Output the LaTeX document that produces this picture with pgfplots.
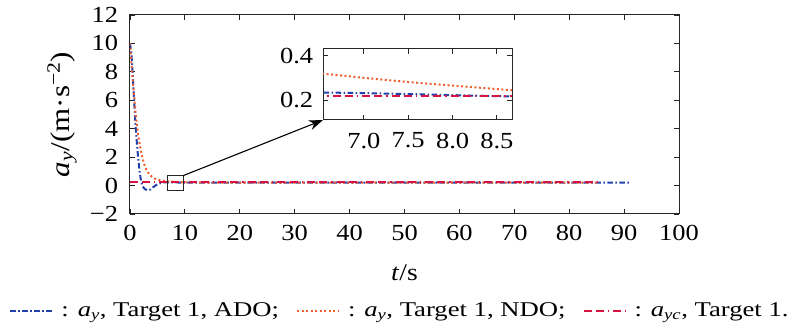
\documentclass[border=0pt]{standalone}
\usepackage{pgfplots}
\pgfplotsset{compat=1.18}
\usepackage{pgfplotstable}
\usepackage{fontspec}
\setmainfont{Liberation Serif}[FakeStretch=1.15]
\newfontfamily\legfont{Liberation Serif}[FakeStretch=1.27]
\usetikzlibrary{calc,arrows.meta}
\definecolor{cblue}{RGB}{35,65,170}
\definecolor{corange}{RGB}{240,95,45}
\definecolor{cred}{RGB}{215,20,65}
\pgfplotstableread{
t y
0 10
0.25 9.3
0.5 7.8
0.75 6.0
1.0 4.3
1.25 3.0
1.5 1.9
1.75 1.0
2.0 0.35
2.3 -0.05
2.7 -0.25
3.2 -0.33
3.7 -0.28
4.2 -0.12
4.7 0.02
5.2 0.12
5.7 0.19
6.2 0.225
6.54 0.234
7.0 0.231
7.5 0.227
8.0 0.222
8.67 0.216
9.5 0.212
12 0.205
20 0.2
91 0.2
}\ado
\pgfplotstableread{
t y
0 10
0.25 8.6
0.5 7.4
0.75 6.3
1.0 5.2
1.3 4.1
1.6 3.3
2.0 2.4
2.5 1.6
3.0 1.1
3.5 0.8
4.0 0.62
4.5 0.5
5.0 0.42
5.5 0.37
6.0 0.34
6.54 0.319
7.0 0.300
7.5 0.281
8.0 0.265
8.67 0.244
10 0.225
15 0.205
85 0.2
}\ndo
\pgfplotstableread{
t y
0 0.219
85 0.219
}\ayc
\begin{document}
\fontsize{23}{27}\selectfont
\begin{tikzpicture}
\pgfplotsset{
  blueline/.style={cblue, line width=2pt, dash pattern=on 5.5pt off 2.5pt on 1.5pt off 2.5pt},
  orangeline/.style={corange, line width=2pt, dash pattern=on 2pt off 2.5pt},
  redline/.style={cred, line width=2pt, dash pattern=on 8pt off 4pt on 8pt off 4pt on 1.5pt off 4pt},
  myaxis/.style={
    scale only axis,
    tick align=inside,
    major tick length=5pt,
    axis line style={line width=1pt, black!85},
    every tick/.style={black!85, line width=0.9pt},
    tick label style={font=\rmfamily\fontsize{23}{27}\selectfont},
    /pgf/number format/assume math mode=true,
  }
}
\begin{axis}[myaxis, name=main,
  width=549pt, height=199pt,
  xmin=0, xmax=100, ymin=-2, ymax=12,
  xtick={0,10,...,100},
  ytick={-2,0,2,4,6,8,10,12},
  yticklabels={−2,0,2,4,6,8,10,12},
  xticklabel style={yshift=-3pt},
  yticklabel style={xshift=-4pt},
  xlabel={\textit{t}/s},
  ylabel={\textit{a}\textsubscript{\textit{y}}/(m·s\textsuperscript{−2})},
  xlabel style={font=\rmfamily\fontsize{24}{28}\selectfont, at={(axis description cs:0.5,-0.3317)}, anchor=base},
  ylabel style={font=\rmfamily\fontsize{27}{31}\selectfont, at={(axis description cs:-0.1111,0.5)}, anchor=base},
  legend image code/.code={\draw[#1] (0pt,0pt) -- (42pt,0pt);},
  legend style={draw=none, fill=none, legend columns=3, at={(0.5,0)}, anchor=north, yshift=-84pt, xshift=-4.5pt,
    font=\legfont\fontsize{21}{25}\selectfont,
    /tikz/every odd column/.append style={column sep=6pt},
    /tikz/every even column/.append style={column sep=15pt}},
]
\addplot[blueline] table[x=t,y=y] {\ado};
\addlegendentry{{: \textit{a}\textsubscript{\textit{y}}, Target 1, ADO;}}
\addplot[orangeline] table[x=t,y=y] {\ndo};
\addlegendentry{{: \textit{a}\textsubscript{\textit{y}}, Target 1, NDO;}}
\addplot[redline] table[x=t,y=y] {\ayc};
\addlegendentry{{: \textit{a}\textsubscript{\textit{yc}}, Target 1.}}
\draw[black!85, line width=1pt] (axis cs:6.87,-0.36) rectangle (axis cs:9.7,0.70);
\coordinate (bx) at (axis cs:9.7,0.70);
\end{axis}
\begin{axis}[myaxis, name=inset,
  at={($(main.south west)+(193pt,94pt)$)}, anchor=south west,
  width=189pt, height=71pt,
  xmin=6.54, xmax=8.67, ymin=0.11, ymax=0.43,
  xtick={7,7.5,8,8.5}, xticklabels={7.0,7.5,8.0,8.5},
  ytick={0.2,0.4}, yticklabels={0.2,0.4},
  xticklabel style={yshift=-5pt},
  yticklabel style={xshift=-2pt},
  axis background/.style={fill=white},
]
\addplot[blueline] table[x=t,y=y] {\ado};
\addplot[orangeline] table[x=t,y=y] {\ndo};
\addplot[redline] table[x=t,y=y] {\ayc};
\end{axis}
\draw[-{Stealth[length=14pt,width=10pt]}, line width=1.1pt, black] (bx) -- (inset.south west);
\pgfresetboundingbox
\path[use as bounding box] ($(main.south west)+(-130pt,-114pt)$) rectangle ($(main.south west)+(670pt,214pt)$);
\end{tikzpicture}
\end{document}
